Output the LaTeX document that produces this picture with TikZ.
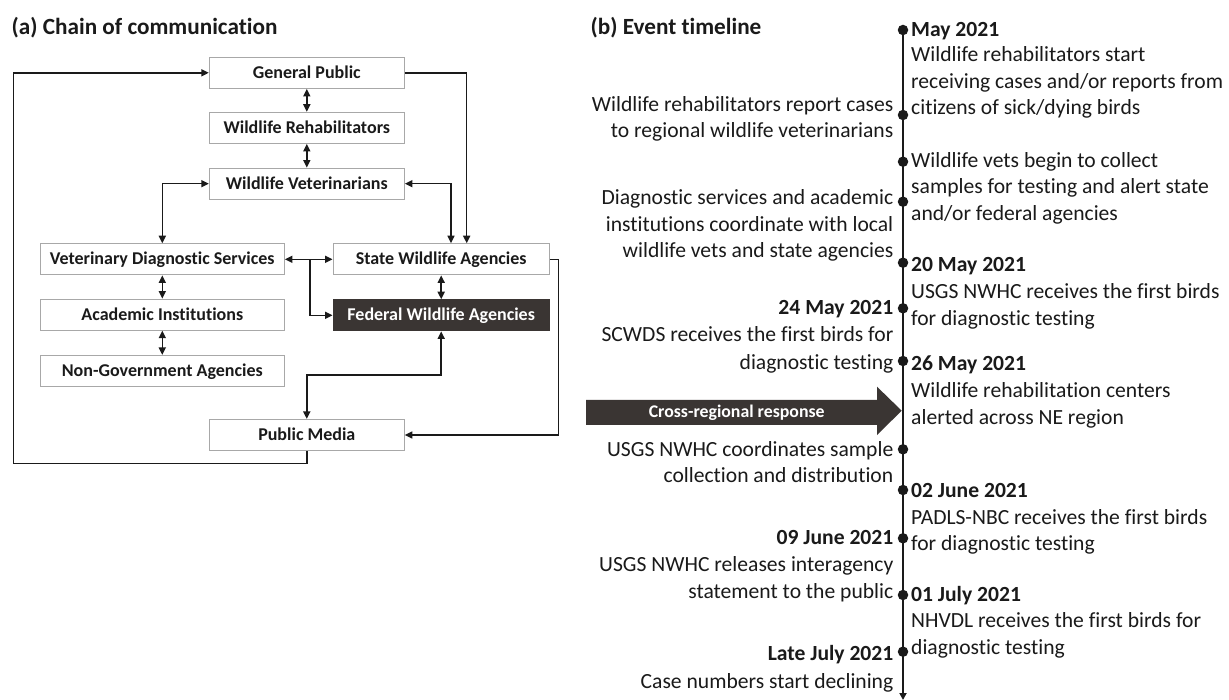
\documentclass[tikz,border=0pt]{standalone}
\usepackage{fontspec}
\setmainfont{Carlito}[Ligatures=NoCommon]
\usetikzlibrary{arrows.meta}
\definecolor{dk}{HTML}{3A3533}
\definecolor{bd}{HTML}{A8A8A8}
\definecolor{ink}{HTML}{1A1A1A}
\begin{document}
\begin{tikzpicture}[x=1pt,y=-1pt,
  box/.style={draw=bd,line width=1.1pt,fill=white,minimum height=31pt,inner sep=0pt,
    text height=13pt,text depth=1.8pt,font=\fontsize{18}{20}\selectfont\bfseries,text=ink},
  con/.style={draw=ink,line width=1.5pt},
  sgl/.style={con,-{Triangle[length=7.5pt,width=7pt]}},
  dbl/.style={con,{Triangle[length=7.5pt,width=7pt]}-{Triangle[length=7.5pt,width=7pt]}},
  ttl/.style={anchor=base west,inner sep=0pt,font=\fontsize{23.2}{26}\selectfont\bfseries,text=ink},
  lt/.style={anchor=base east,inner sep=0pt,font=\fontsize{21.6}{26}\selectfont,text=ink},
  rt/.style={anchor=base west,inner sep=0pt,font=\fontsize{21.6}{26}\selectfont,text=ink},
  dot/.style={circle,fill=ink,inner sep=0pt,minimum size=10.5pt}]
\useasboundingbox (0,0) rectangle (1229,700);
\fill[white] (0,0) rectangle (1229,700);

% titles
\node[ttl] (ta) at (11.5,34.5) {(a) Chain of communication};
\node[ttl] (tb) at (590.5,34.5) {(b) Event timeline};

% boxes
\node[box,minimum width=195pt] (gp) at (306.8,72.8) {General Public};
\node[box,minimum width=195pt] (wr) at (306.8,127.8) {Wildlife Rehabilitators};
\node[box,minimum width=195pt] (wv) at (306.8,183.7) {Wildlife Veterinarians};
\node[box,minimum width=244pt] (vds) at (162.3,259.3) {Veterinary Diagnostic Services};
\node[box,minimum width=244pt] (ai) at (162.3,314.7) {Academic Institutions};
\node[box,minimum width=244pt] (ng) at (162.3,371) {Non-Government Agencies};
\node[box,minimum width=195pt] (pm) at (306.8,435) {Public Media};
\node[box,minimum width=216.3pt] (sw) at (441.2,259.3) {State Wildlife Agencies};
\node[box,minimum width=216.3pt,fill=dk,draw=dk,text=white] (fw) at (441.2,315.3) {Federal Wildlife Agencies};

% connectors
\draw[dbl] (gp.south) -- (wr.north);
\draw[dbl] (wr.south) -- (wv.north);
\draw[dbl] (wv.west) -| (vds.north);
\draw[dbl] (wv.east) -| ([xshift=9.8pt]sw.north);
\draw[sgl] (gp.east) -| ([xshift=25.5pt]sw.north);
\draw[dbl] (vds.east) -- (sw.west);
\draw[dbl] (vds.south) -- (ai.north);
\draw[dbl] (ai.south) -- (ng.north);
\coordinate (br) at (310,259.3);
\draw[sgl] (br) |- (fw.west);
\draw[dbl] (sw.south) -- (fw.north);
\coordinate (fpm) at (441.2,375);
\draw[dbl] (fw.south) -- (fpm) -| (pm.north);
\coordinate (se) at (558.3,259.3);
\draw[sgl] (sw.east) -- (se) |- (pm.east);
\coordinate (lb) at (13.3,463.3);
\draw[sgl] (pm.south) |- (lb) |- (gp.west);

% timeline axis
\coordinate (ttop) at (903,30);
\coordinate (tbot) at (903,700);
\draw[con,line width=2pt,-{Triangle[length=7pt,width=7pt]}] (ttop) -- (tbot);
\foreach \n/\y in {1/30,2/115,3/161.7,4/201.7,5/262.7,6/308.3,7/361,8/449.3,9/490,10/538.3,11/595,12/651.7}
  \node[dot] (d\n) at (903,\y) {};

% cross-regional arrow
\fill[dk] (586,400) -- (877,400) -- (877,386.7) -- (901.7,410.7) -- (877,435) -- (877,425) -- (586,425) -- cycle;
\node[anchor=base,inner sep=0pt,font=\fontsize{17.8}{20}\selectfont\bfseries,text=white] (cr) at (736.7,417.5) {Cross-regional response};

% left texts
\node[lt] (l1a) at (893.5,111.5) {Wildlife rehabilitators report cases};
\node[lt] (l1b) at (893.5,137.5) {to regional wildlife veterinarians};
\node[lt] (l2a) at (893.5,205) {Diagnostic services and academic};
\node[lt] (l2b) at (893.5,231.5) {institutions coordinate with local};
\node[lt] (l2c) at (893.5,258) {wildlife vets and state agencies};
\node[lt,font=\fontsize{21.6}{26}\selectfont\bfseries] (l3a) at (893.5,314.5) {24 May 2021};
\node[lt] (l3b) at (893.5,342) {SCWDS receives the first birds for};
\node[lt] (l3c) at (893.5,369.5) {diagnostic testing};
\node[lt] (l4a) at (893.5,456.5) {USGS NWHC coordinates sample};
\node[lt] (l4b) at (893.5,482) {collection and distribution};
\node[lt,font=\fontsize{21.6}{26}\selectfont\bfseries] (l5a) at (893.5,544.5) {09 June 2021};
\node[lt] (l5b) at (893.5,571.5) {USGS NWHC releases interagency};
\node[lt] (l5c) at (893.5,598.3) {statement to the public};
\node[lt,font=\fontsize{21.6}{26}\selectfont\bfseries] (l6a) at (893.5,660) {Late July 2021};
\node[lt] (l6b) at (893.5,688.3) {Case numbers start declining};

% right texts
\node[rt,font=\fontsize{21.6}{26}\selectfont\bfseries] (r0a) at (911,36.5) {May 2021};
\node[rt] (r0b) at (911,62) {Wildlife rehabilitators start};
\node[rt] (r0c) at (911,88.5) {receiving cases and/or reports from};
\node[rt] (r0d) at (911,115) {citizens of sick/dying birds};
\node[rt] (r1a) at (911,168) {Wildlife vets begin to collect};
\node[rt] (r1b) at (911,194) {samples for testing and alert state};
\node[rt] (r1c) at (911,220.5) {and/or federal agencies};
\node[rt,font=\fontsize{21.6}{26}\selectfont\bfseries] (r2a) at (911,271.7) {20 May 2021};
\node[rt] (r2b) at (911,299) {USGS NWHC receives the first birds};
\node[rt] (r2c) at (911,325.5) {for diagnostic testing};
\node[rt,font=\fontsize{21.6}{26}\selectfont\bfseries] (r3a) at (911,371) {26 May 2021};
\node[rt] (r3b) at (911,397.5) {Wildlife rehabilitation centers};
\node[rt] (r3c) at (911,424.5) {alerted across NE region};
\node[rt,font=\fontsize{21.6}{26}\selectfont\bfseries] (r4a) at (911,497.5) {02 June 2021};
\node[rt] (r4b) at (911,524) {PADLS-NBC receives the first birds};
\node[rt] (r4c) at (911,550.5) {for diagnostic testing};
\node[rt,font=\fontsize{21.6}{26}\selectfont\bfseries] (r5a) at (911,601) {01 July 2021};
\node[rt] (r5b) at (911,627.5) {NHVDL receives the first birds for};
\node[rt] (r5c) at (911,654.5) {diagnostic testing};
\end{tikzpicture}
\end{document}
